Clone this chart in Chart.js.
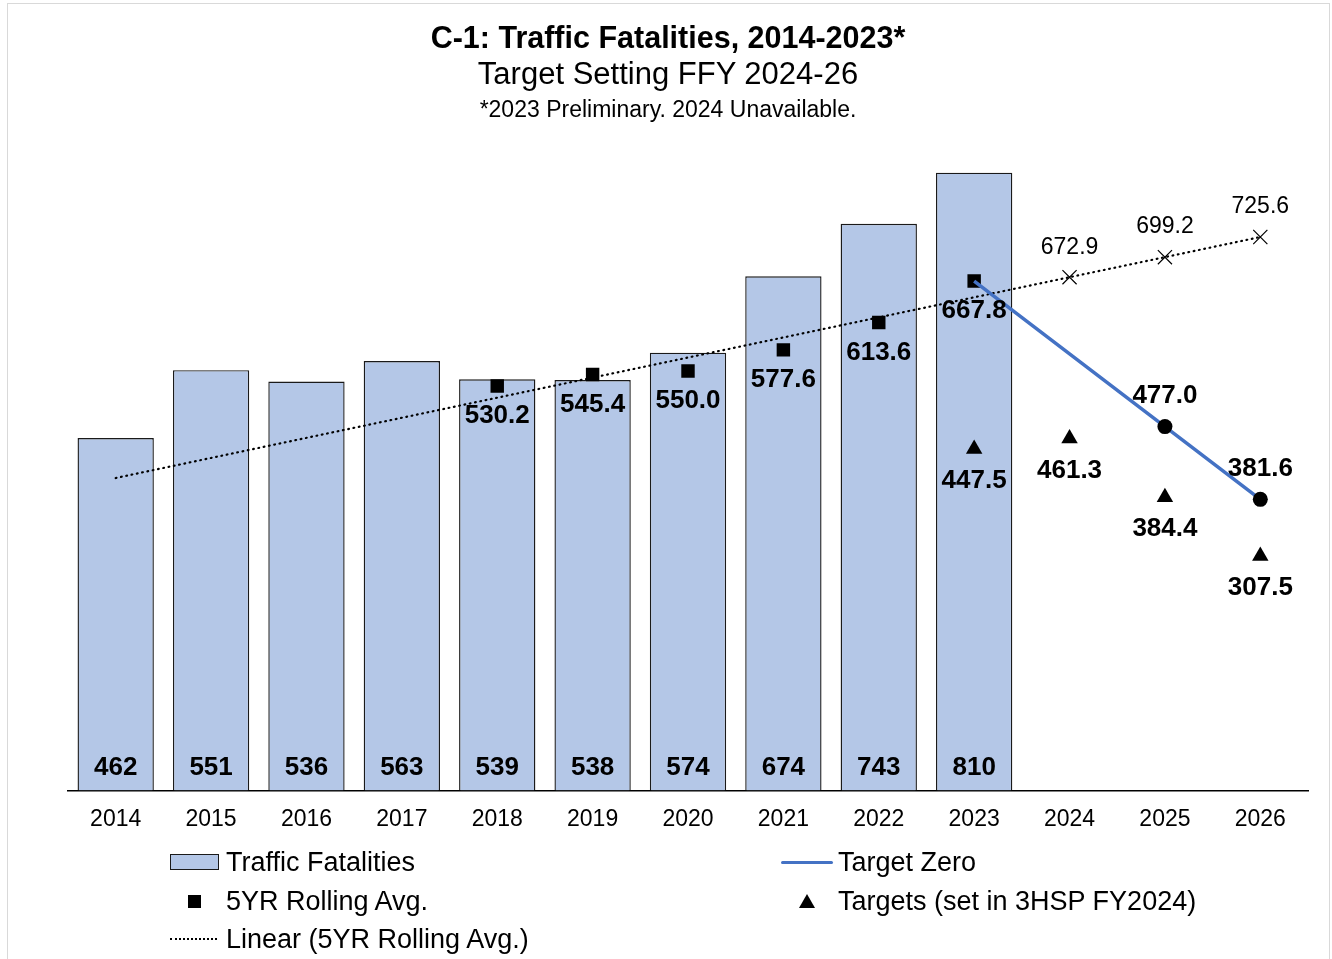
<!DOCTYPE html>
<html>
<head>
<meta charset="utf-8">
<script src="https://cdn.jsdelivr.net/npm/chart.js@4.4.1/dist/chart.umd.min.js"></script>
<style>
  body { margin: 0; background: #fff; font-family: "Liberation Sans", Arial, sans-serif; color: #000; }
  #wrap { position: relative; width: 1332px; height: 959px; overflow: hidden; }
  #frame { position: absolute; left: 7px; top: 3px; width: 1323px; height: 1000px; border: 1px solid #d9d9d9; box-sizing: border-box; }
  canvas { position: absolute; left: 0; top: 0; }
  .t { position: absolute; left: 2px; width: 1332px; text-align: center; white-space: nowrap; line-height: 1; }
  .lg { position: absolute; font-size: 27px; line-height: 1; white-space: nowrap; }
  .sym { position: absolute; }
</style>
</head>
<body>
<div id="wrap">
  <div id="frame"></div>
  <canvas id="chart" width="1332" height="959"></canvas>
  <div class="t" style="top:22px;font-size:30.5px;font-weight:bold;">C-1: Traffic Fatalities, 2014-2023*</div>
  <div class="t" style="top:58px;font-size:31px;">Target Setting FFY 2024-26</div>
  <div class="t" style="top:98px;font-size:23px;">*2023 Preliminary. 2024 Unavailable.</div>
  <div id="legend"></div>
</div>
<script>
// values
const years = ['2014', '2015', '2016', '2017', '2018', '2019', '2020', '2021', '2022', '2023', '2024', '2025', '2026'];
const fatalities = [462, 551, 536, 563, 539, 538, 574, 674, 743, 810, null, null, null];
const rollingAvg = [null, null, null, null, 530.2, 545.4, 550.0, 577.6, 613.6, 667.8, null, null, null];
const linearTrend = [409.6, null, null, null, null, null, null, null, null, null, 672.9, 699.2, 725.6];
const targetZero = [null, null, null, null, null, null, null, null, null, 667.8, null, 477.0, 381.6];
const targets = [null, null, null, null, null, null, null, null, null, 447.5, 461.3, 384.4, 307.5];

const FONT = '"Liberation Sans", Arial, sans-serif';

// draws the value labels next to each mark
const valueLabels = {
  id: 'valueLabels',
  afterDatasetsDraw(chart) {
    const ctx = chart.ctx;
    chart.data.datasets.forEach((ds, i) => {
      const cfg = ds.valueLabel;
      if (!cfg) return;
      const meta = chart.getDatasetMeta(i);
      ctx.save();
      ctx.font = cfg.font;
      ctx.fillStyle = '#000';
      ctx.textAlign = 'center';
      ctx.textBaseline = 'middle';
      meta.data.forEach((el, j) => {
        const v = ds.data[j];
        if (v == null) return;
        if (cfg.from != null && j < cfg.from) return;
        const y = cfg.atBase ? chart.scales.y.getPixelForValue(0) + cfg.dy : el.y + cfg.dy;
        ctx.fillText(v.toFixed(cfg.digits), el.x, y);
      });
      ctx.restore();
    });
  }
};

new Chart(document.getElementById('chart'), {
  data: {
    labels: years,
    datasets: [
      {
        type: 'line', label: 'Target Zero', data: targetZero, spanGaps: true,
        borderColor: '#4472c4', borderWidth: 3.5, backgroundColor: '#000',
        pointRadius: [0, 0, 0, 0, 0, 0, 0, 0, 0, 0, 0, 7.5, 7.5], pointBorderWidth: 0,
        valueLabel: { font: 'bold 26px ' + FONT, dy: -31, digits: 1, from: 10 }
      },
      {
        type: 'line', label: 'Targets (set in 3HSP FY2024)', data: targets, showLine: false,
        pointStyle: 'triangle', pointRadius: 9.5, backgroundColor: '#000', borderColor: '#000', pointBorderWidth: 0,
        valueLabel: { font: 'bold 26px ' + FONT, dy: 32, digits: 1 }
      },
      {
        type: 'line', label: '5YR Rolling Avg.', data: rollingAvg, showLine: false,
        pointStyle: 'rect', pointRadius: 9.5, backgroundColor: '#000', borderColor: '#000', pointBorderWidth: 0,
        valueLabel: { font: 'bold 26px ' + FONT, dy: 30, digits: 1 }
      },
      {
        type: 'line', label: 'Linear (5YR Rolling Avg.)', data: linearTrend, spanGaps: true,
        borderColor: '#000', borderWidth: 2.2, borderDash: [0.8, 4.6], borderCapStyle: 'round',
        pointStyle: 'crossRot', pointRadius: [0, 0, 0, 0, 0, 0, 0, 0, 0, 0, 10, 10, 10],
        pointBorderColor: '#000', pointBorderWidth: 1.2,
        valueLabel: { font: '23px ' + FONT, dy: -30, digits: 1, from: 10 }
      },
      {
        type: 'bar', label: 'Traffic Fatalities', data: fatalities,
        backgroundColor: '#b4c7e7', borderColor: '#1a1a1a', borderWidth: 1.4,
        barPercentage: 0.8, categoryPercentage: 1.0,
        valueLabel: { font: 'bold 26px ' + FONT, dy: -23, digits: 0, atBase: true }
      }
    ]
  },
  options: {
    responsive: false,
    animation: false,
    events: [],
    layout: { padding: { left: 68, right: 24, top: 104, bottom: 111 } },
    plugins: { legend: { display: false }, tooltip: { enabled: false } },
    scales: {
      x: {
        grid: { display: false, drawTicks: false },
        border: { display: true, color: '#000', width: 1.5 },
        ticks: { color: '#000', font: { family: FONT, size: 23 }, padding: 15 }
      },
      y: { display: false, min: 0, max: 900 }
    }
  },
  plugins: [valueLabels]
});

// legend in two columns, as in the reference
const legendItems = [
  { text: 'Traffic Fatalities', x: 226, y: 849, sym: '<div class="sym" style="left:-56px;top:5px;width:47px;height:14px;background:#b4c7e7;border:1.5px solid #1a1a1a;"></div>' },
  { text: '5YR Rolling Avg.', x: 226, y: 888, sym: '<div class="sym" style="left:-38px;top:7px;width:13px;height:13px;background:#000;"></div>' },
  { text: 'Linear (5YR Rolling Avg.)', x: 226, y: 926, sym: '<div class="sym" style="left:-56px;top:12px;width:47px;height:0;border-top:2px dotted #000;"></div>' },
  { text: 'Target Zero', x: 838, y: 849, sym: '<div class="sym" style="left:-57px;top:11.5px;width:52px;height:3.5px;background:#4472c4;border-radius:2px;"></div>' },
  { text: 'Targets (set in 3HSP FY2024)', x: 838, y: 888, sym: '<div class="sym" style="left:-39px;top:6px;width:0;height:0;border-left:8px solid transparent;border-right:8px solid transparent;border-bottom:14px solid #000;"></div>' }
];
document.getElementById('legend').innerHTML = legendItems.map(it =>
  `<div class="lg" style="left:${it.x}px;top:${it.y}px;">${it.sym}${it.text}</div>`
).join('');
</script>
</body>
</html>
